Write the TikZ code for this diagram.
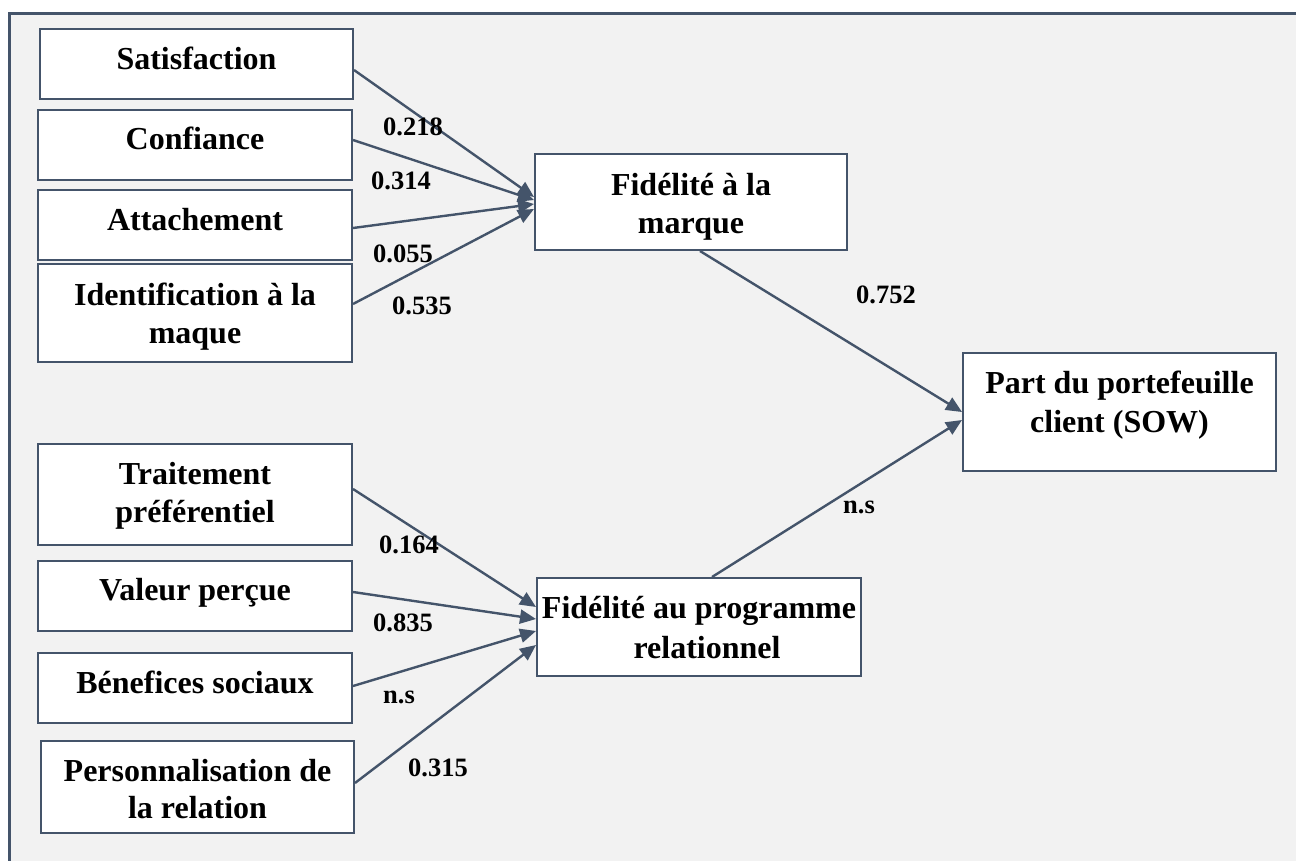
\documentclass[tikz,border=0pt]{standalone}
\usepackage{fontspec}
\setmainfont{Liberation Serif}
\usetikzlibrary{arrows.meta}
\definecolor{frame}{HTML}{44546A}
\definecolor{bg}{HTML}{F2F2F2}
\begin{document}
\begin{tikzpicture}[x=1pt,y=-1pt,
  box/.style={draw=frame, line width=2pt, fill=white, inner sep=0pt},
  txt/.style={font=\bfseries\fontsize{32}{38}\selectfont, anchor=base, inner sep=0pt},
  coef/.style={font=\bfseries\fontsize{26.5}{30}\selectfont, inner sep=0pt},
  arr/.style={draw=frame, line width=2.4pt, -{Triangle[length=16pt,width=14pt]}}]
\useasboundingbox (0,0) rectangle (1296,860);
\fill[white] (0,0) rectangle (1296,860);
\path[fill=bg, draw=frame, line width=3pt] (9,13) rectangle (1320,880);

% boxes
\node[box, minimum width=313pt, minimum height=70pt] (sat) at (196.5,64) {};
\node[box, minimum width=314pt, minimum height=70pt] (conf) at (195,145) {};
\node[box, minimum width=314pt, minimum height=70pt] (att) at (195,225) {};
\node[box, minimum width=314pt, minimum height=98pt] (ident) at (195,313) {};
\node[box, minimum width=312pt, minimum height=96pt] (fm) at (691,202) {};
\node[box, minimum width=313pt, minimum height=118pt] (sow) at (1119.5,412) {};
\node[box, minimum width=314pt, minimum height=101pt] (trait) at (195,494.5) {};
\node[box, minimum width=314pt, minimum height=70pt] (valp) at (195,596) {};
\node[box, minimum width=314pt, minimum height=70pt] (ben) at (195,688) {};
\node[box, minimum width=313pt, minimum height=92pt] (pers) at (197.5,787) {};
\node[box, minimum width=324pt, minimum height=98pt] (fp) at (699,627) {};

% texts
\node[txt] (satT) at (196.5,69) {Satisfaction};
\node[txt] (confT) at (195,149) {Confiance};
\node[txt] (attT) at (195,230) {Attachement};
\node[txt] (identT1) at (195,305) {Identification à la};
\node[txt] (identT2) at (195,343) {maque};
\node[txt] (fmT1) at (691,195) {Fidélité à la};
\node[txt] (fmT2) at (691,233) {marque};
\node[txt] (sowT1) at (1119.5,393) {Part du portefeuille};
\node[txt] (sowT2) at (1119.5,432) {client (SOW)};
\node[txt] (traitT1) at (195,484) {Traitement};
\node[txt] (traitT2) at (195,522) {préférentiel};
\node[txt] (valpT) at (195,600) {Valeur perçue};
\node[txt] (benT) at (195,693) {Bénefices sociaux};
\node[txt] (persT1) at (197.5,781) {Personnalisation de};
\node[txt] (persT2) at (197.5,818) {la relation};
\node[txt] (fpT1) at (699,618) {Fidélité au programme};
\node[txt] (fpT2) at (707,658) {relationnel};

% arrows upper group
\draw[arr] ([yshift=-6pt]sat.east) -- ([yshift=5pt]fm.west);
\draw[arr] ([yshift=5pt]conf.east) -- ([yshift=2pt]fm.west);
\draw[arr] ([yshift=-3pt]att.east) -- ([yshift=-2pt]fm.west);
\draw[arr] ([yshift=9pt]ident.east) -- ([yshift=-7pt]fm.west);
% arrows lower group
\draw[arr] ([yshift=5.5pt]trait.east) -- ([yshift=20pt]fp.west);
\draw[arr] ([yshift=4pt]valp.east) -- ([yshift=8pt]fp.west);
\draw[arr] ([yshift=2pt]ben.east) -- ([yshift=-4pt]fp.west);
\draw[arr] ([yshift=4pt]pers.east) -- ([yshift=-18pt]fp.west);
% arrows to SOW
\draw[arr] ([xshift=9pt]fm.south) -- (sow.west);
\draw[arr] ([xshift=13pt]fp.north) -- ([yshift=-8pt]sow.west);

% coefficients
\node[coef] (l218) at (413,127) {0.218};
\node[coef] (l314) at (401,181) {0.314};
\node[coef] (l055) at (403,254) {0.055};
\node[coef] (l535) at (422,306) {0.535};
\node[coef] (l752) at (886,295) {0.752};
\node[coef] (lns1) at (859,507) {n.s};
\node[coef] (l164) at (409,545) {0.164};
\node[coef] (l835) at (403,623) {0.835};
\node[coef] (lns2) at (399,697) {n.s};
\node[coef] (l315) at (438,768) {0.315};
\end{tikzpicture}
\end{document}
